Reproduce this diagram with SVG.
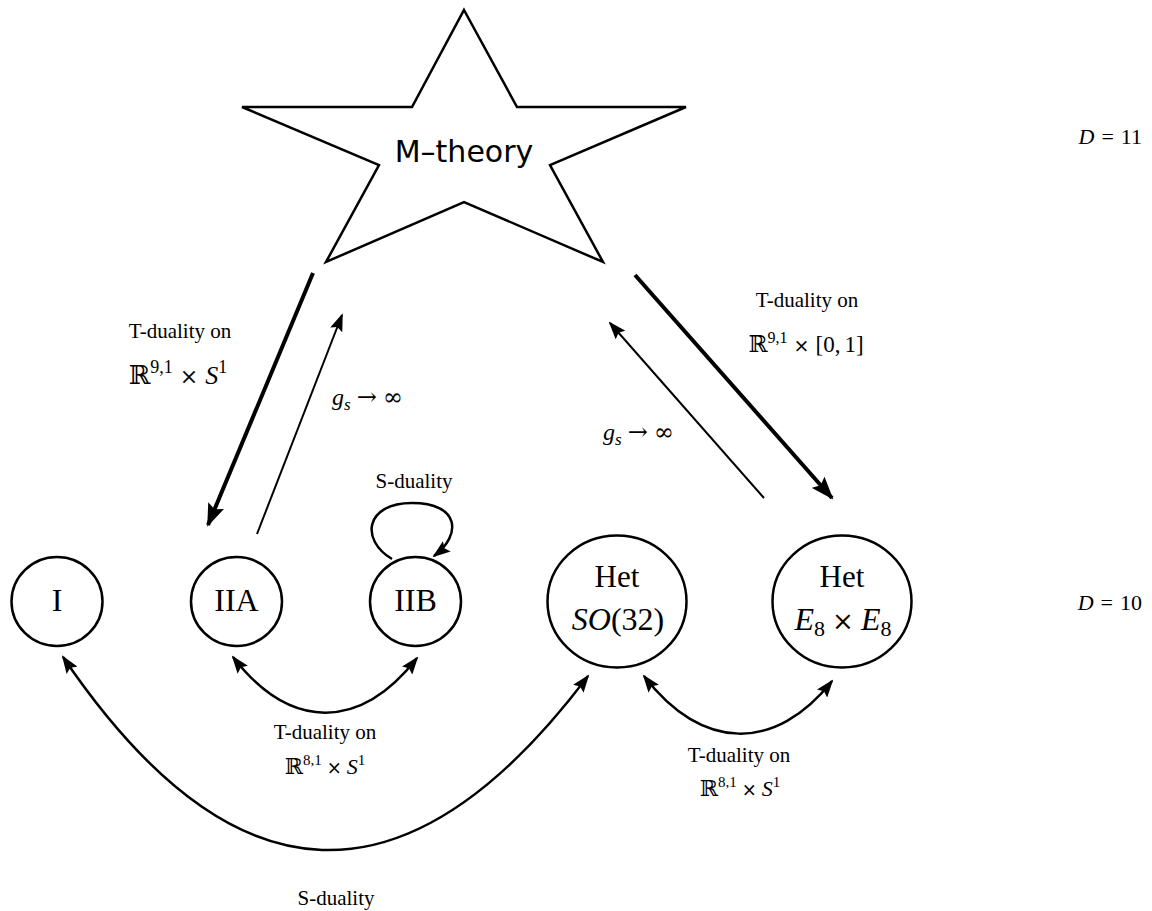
<svg xmlns="http://www.w3.org/2000/svg" width="1152" height="911" viewBox="0 0 1152 911">
<style>
.node{fill:#fff;stroke:#000;stroke-width:2.5}
.lbl{font-family:"Liberation Serif","Times New Roman",serif;fill:#000}
.it{font-style:italic}
.bb{font-family:"DejaVu Serif",serif}
.thin{fill:none;stroke:#000;stroke-width:2}
.thick{fill:none;stroke:#000;stroke-width:4}
.curve{fill:none;stroke:#000;stroke-width:2.5}
</style>
<defs>
<marker id="ah" viewBox="0 0 18 13" markerWidth="18" markerHeight="13" refX="16" refY="6.5" markerUnits="userSpaceOnUse" orient="auto-start-reverse"><path d="M0,0 L18,6.5 L0,13 L3,6.5 z" fill="#000"/></marker>
<marker id="ahT" viewBox="0 0 23 17" markerWidth="23" markerHeight="17" refX="21" refY="8.5" markerUnits="userSpaceOnUse" orient="auto-start-reverse"><path d="M0,0 L23,8.5 L0,17 L4,8.5 z" fill="#000"/></marker>
</defs>
<rect width="1152" height="911" fill="#fff"/>

<g id="connectors">
<path class="thick" d="M313,273 L208,525" marker-end="url(#ahT)"/>
<path class="thin" d="M257,534 L342,315" marker-end="url(#ah)"/>
<path class="thick" d="M635,275 L832,498" marker-end="url(#ahT)"/>
<path class="thin" d="M764,498 L610,323" marker-end="url(#ah)"/>
<path class="curve" d="M392,559 C360,540 365,503 412,503 C460,503 462,535 434,556" marker-end="url(#ah)"/>
<path class="curve" d="M233,657 C290,731 360,731 417,658" marker-start="url(#ah)" marker-end="url(#ah)"/>
<path class="curve" d="M644,676 C702,752 776,752 832,681" marker-start="url(#ah)" marker-end="url(#ah)"/>
<path class="curve" d="M63,657 Q318.5,1033.5 588,676" marker-start="url(#ah)" marker-end="url(#ah)"/>
</g>

<g id="mtheory">
<polygon class="node" points="464,10 517,107 686,107 550,165 603,262 464,202 326,262 379,165 242,107 412,107"/>
<text x="464" y="162" text-anchor="middle" font-family="DejaVu Sans, sans-serif" font-size="30">M–theory</text>
</g>

<g id="typeI">
<ellipse class="node" cx="57" cy="601.5" rx="45.5" ry="44.5"/>
<text class="lbl" x="57" y="611" text-anchor="middle" font-size="32">I</text>
</g>
<g id="IIA">
<ellipse class="node" cx="236.5" cy="601.5" rx="45.5" ry="44.5"/>
<text class="lbl" x="236.5" y="611" text-anchor="middle" font-size="32">IIA</text>
</g>
<g id="IIB">
<ellipse class="node" cx="415.5" cy="601.5" rx="45.5" ry="44.5"/>
<text class="lbl" x="415.5" y="611" text-anchor="middle" font-size="32">IIB</text>
</g>
<g id="hetSO">
<ellipse class="node" cx="617" cy="601.5" rx="69.5" ry="66"/>
<text class="lbl" x="617" y="587" text-anchor="middle" font-size="31">Het</text>
<text class="lbl" x="618" y="630" text-anchor="middle" font-size="32"><tspan class="it">SO</tspan>(32)</text>
</g>
<g id="hetE8">
<ellipse class="node" cx="842" cy="601.5" rx="69.5" ry="66"/>
<text class="lbl" x="842" y="587" text-anchor="middle" font-size="31">Het</text>
<text class="lbl" x="843" y="630" text-anchor="middle" font-size="32"><tspan class="it">E</tspan><tspan font-size="22" dy="6">8</tspan><tspan class="bb" font-size="26" dy="-6" dx="7">×</tspan><tspan class="it" dx="7">E</tspan><tspan font-size="22" dy="6">8</tspan></text>
</g>

<g id="labels" class="lbl">
<text x="180" y="338" text-anchor="middle" font-size="21">T-duality on</text>
<text x="178" y="384" text-anchor="middle" font-size="26"><tspan class="bb">ℝ</tspan><tspan font-size="18" dy="-11">9,1</tspan><tspan class="bb" font-size="22" dy="11" dx="7">×</tspan><tspan class="it" dx="7">S</tspan><tspan font-size="18" dy="-11">1</tspan></text>
<text x="332" y="405" font-size="24"><tspan class="it">g</tspan><tspan class="it" font-size="17" dy="5">s</tspan><tspan class="bb" dy="-5" dx="6">→</tspan><tspan class="bb" dx="6">∞</tspan></text>
<text x="807" y="307" text-anchor="middle" font-size="21">T-duality on</text>
<text x="806" y="352" text-anchor="middle" font-size="23"><tspan class="bb">ℝ</tspan><tspan font-size="16" dy="-9">9,1</tspan><tspan class="bb" font-size="19" dy="9" dx="6">×</tspan><tspan dx="6">[0,</tspan><tspan dx="4">1]</tspan></text>
<text x="603" y="440" font-size="24"><tspan class="it">g</tspan><tspan class="it" font-size="17" dy="5">s</tspan><tspan class="bb" dy="-5" dx="6">→</tspan><tspan class="bb" dx="6">∞</tspan></text>
<text x="414" y="488" text-anchor="middle" font-size="21">S-duality</text>
<text x="325" y="739" text-anchor="middle" font-size="21">T-duality on</text>
<text x="325" y="774" text-anchor="middle" font-size="22"><tspan class="bb">ℝ</tspan><tspan font-size="15" dy="-9">8,1</tspan><tspan class="bb" font-size="18" dy="9" dx="5">×</tspan><tspan class="it" dx="5">S</tspan><tspan font-size="15" dy="-9">1</tspan></text>
<text x="739" y="762" text-anchor="middle" font-size="21">T-duality on</text>
<text x="740" y="796" text-anchor="middle" font-size="22"><tspan class="bb">ℝ</tspan><tspan font-size="15" dy="-9">8,1</tspan><tspan class="bb" font-size="18" dy="9" dx="5">×</tspan><tspan class="it" dx="5">S</tspan><tspan font-size="15" dy="-9">1</tspan></text>
<text x="336" y="905" text-anchor="middle" font-size="21">S-duality</text>
<text x="1142" y="144" text-anchor="end" font-size="22"><tspan class="it">D</tspan><tspan dx="7">=</tspan><tspan dx="7">11</tspan></text>
<text x="1142" y="610" text-anchor="end" font-size="22"><tspan class="it">D</tspan><tspan dx="7">=</tspan><tspan dx="7">10</tspan></text>
</g>
</svg>
